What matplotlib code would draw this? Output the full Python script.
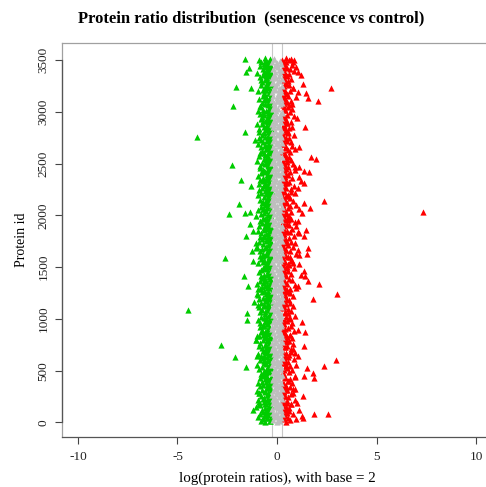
import numpy as np
import matplotlib
matplotlib.use('Agg')
import matplotlib.pyplot as plt

# log2 ratios of the dense central band, sampled proteins in id order (first pass)
core_ratio = [
    -0.58, 0.43, -0.81, -0.36, 0.67, -0.72, 0.12, -0.49, 0.53, -0.95, 0.34, -0.63, -0.44, 0.78, -0.87, 0.48, -0.19, -0.68, 0.59, -0.53,
    0.38, -0.76, -0.47, 0.62, -0.60, -1.03, 0.45, -0.39, 0.05, -0.84, 0.71, -0.55, 0.33, -0.66, -0.91, 0.52, -0.42, 0.88, -0.70, -0.22,
    -0.64, 0.57, -0.37, -0.79, 0.41, -0.52, 0.16, 0.69, -0.88, -0.45, 0.36, -0.61, -0.98, 0.49, -0.73, 0.81, -0.50, -0.09, 0.63, -0.83,
    0.46, -0.41, -0.69, 0.35, -0.93, 0.74, -0.56, -0.77, 0.54, -0.38, -0.21, 0.65, -0.62, -0.86, 0.40, -0.48, 0.92, -0.71, 0.07, -0.59,
    -0.82, 0.31, -0.54, 0.60, -0.67, -0.40, 0.77, -0.90, 0.13, -0.46, 0.50, -0.74, -0.35, 0.66, -1.00, 0.44, -0.57, -0.65, 0.37, -0.16,
    0.55, -0.63, -0.87, 0.42, -0.44, 0.84, -0.70, -0.51, 0.33, -0.78, -0.04, 0.61, -0.39, -0.96, 0.47, -0.58, 0.72, -0.68, -0.48, 0.20,
    -0.45, 0.68, -0.75, -0.55, 0.39, -0.89, 0.52, -0.62, -0.37, 0.80, -0.11, -0.83, 0.45, -0.50, 0.58, -0.72, -1.05, 0.35, -0.60, 0.73,
    0.49, -0.53, -0.92, 0.64, -0.68, 0.18, -0.43, 0.37, -0.80, -0.61, 0.86, -0.47, -0.74, 0.42, -0.36, 0.56, -0.24, -0.85, 0.70, -0.65,
    -0.70, 0.36, -0.49, -0.84, 0.75, -0.58, 0.03, 0.51, -0.97, -0.41, 0.62, -0.66, -0.53, 0.44, -0.78, 0.90, -0.38, 0.14, -0.62, 0.57,
    0.40, -0.86, -0.60, 0.70, -0.46, -0.73, 0.55, -0.35, -0.23, 0.33, -0.91, -0.52, 0.79, -0.67, 0.47, -0.44, -0.80, 0.63, 0.09, -0.57,
    -0.62, 0.59, -0.39, -0.88, 0.46, -0.71, -0.50, 0.82, -0.17, -0.94, 0.38, -0.56, 0.67, -0.45, -0.76, 0.52, -0.64, 0.11, 0.43, -0.83,
    0.66, -0.48, -0.77, 0.34, -0.59, 0.91, -0.42, -1.01, 0.50, -0.68, -0.06, 0.41, -0.54, -0.85, 0.73, -0.37, 0.58, -0.74, -0.63, 0.21,
    -0.79, 0.45, -0.66, -0.51, 0.72, -0.36, 0.19, -0.90, 0.56, -0.47, -0.82, 0.36, -0.61, 0.85, -0.72, 0.48, -0.43, -0.14, 0.62, -0.55,
    0.53, -0.57, -0.94, 0.39, -0.70, 0.76, -0.45, -0.64, 0.31, -0.80, 0.02, 0.67, -0.39, -0.87, 0.44, -0.52, 0.95, -0.69, -0.24, -0.48,
    -0.52, 0.64, -0.83, -0.41, 0.47, -0.73, 0.35, -0.60, -0.99, 0.78, -0.10, -0.46, 0.55, -0.68, -0.37, 0.41, -0.89, 0.69, -0.57, 0.16,
    0.43, -0.74, -0.49, 0.58, -0.86, -0.38, 0.83, -0.63, 0.22, -0.55, 0.37, -0.79, -0.44, 0.64, -0.93, 0.50, -0.66, -0.07, 0.74, -0.42,
    -0.67, 0.32, -0.58, -0.92, 0.61, -0.45, 0.48, -0.76, -0.18, 0.88, -0.53, -0.84, 0.40, -0.39, 0.69, -0.62, -0.71, 0.13, 0.54, -1.04,
    0.60, -0.44, -0.81, 0.45, -0.65, 0.72, -0.36, -0.57, 0.05, -0.95, 0.36, -0.70, 0.53, -0.48, -0.78, 0.66, -0.40, 0.93, -0.61, -0.25,
    -0.74, 0.51, -0.40, -0.68, 0.79, -0.87, 0.38, -0.52, -0.20, 0.63, -0.63, -0.43, 0.46, -0.97, 0.57, -0.56, 0.08, -0.82, 0.71, -0.47,
    0.35, -0.61, -0.89, 0.68, -0.50, 0.44, -0.77, -0.38, 0.85, -0.66, 0.15, -0.45, -0.92, 0.52, -0.58, 0.60, -0.72, -0.13, 0.39, -0.84,
    -0.56, 0.74, -0.71, -0.46, 0.42, -0.94, 0.56, -0.37, -0.03, 0.33, -0.80, -0.60, 0.65, -0.49, 0.89, -0.69, -0.41, 0.47, -0.86, 0.18,
    0.57, -0.83, -0.43, 0.37, -0.62, 0.81, -0.54, -0.75, 0.49, -1.02, -0.22, 0.70, -0.39, -0.67, 0.43, -0.50, 0.61, -0.90, 0.10, -0.59,
    -0.48, 0.39, -0.65, -0.85, 0.67, -0.42, -0.73, 0.53, -0.11, -0.57, 0.90, -0.36, 0.45, -0.81, -0.61, 0.76, -0.47, 0.34, -0.95, 0.04,
    0.71, -0.69, -0.52, 0.48, -0.79, 0.36, -0.40, -0.91, 0.62, -0.58, 0.19, -0.46, 0.83, -0.74, -0.35, 0.54, -0.64, -0.88, 0.41, -0.08,
    -0.60, 0.47, -0.88, -0.44, 0.58, -0.66, 0.77, -0.51, -0.15, 0.35, -0.76, -0.98, 0.50, -0.39, 0.68, -0.70, -0.55, 0.44, 0.06, -0.82,
    0.42, -0.50, -0.73, 0.87, -0.37, -0.63, 0.52, -0.84, 0.23, -0.45, 0.64, -0.57, -0.93, 0.38, -0.68, 0.75, -0.42, -0.19, 0.56, -0.78,
    -0.85, 0.62, -0.47, -0.59, 0.34, -0.77, 0.46, -0.40, -0.02, 0.71, -0.65, -0.89, 0.40, -0.53, 0.94, -0.36, -0.72, 0.57, -0.61, 0.12,
    0.50, -0.38, -0.66, 0.41, -0.96, 0.66, -0.55, -0.71, 0.13, -0.48, 0.80, -0.62, -0.43, 0.36, -0.82, 0.59, -0.51, -0.26, 0.45, -0.74,
    -0.43, 0.55, -0.78, -0.62, 0.69, -0.49, 0.33, -0.87, -0.09, 0.48, -0.54, -0.70, 0.61, -0.38, -1.00, 0.42, -0.65, 0.84, -0.46, 0.21,
    0.64, -0.72, -0.45, 0.51, -0.58, 0.39, -0.83, -0.36, 0.76, -0.67, 0.02, -0.52, -0.79, 0.47, -0.41, 0.58, -0.91, -0.16, 0.68, -0.60,
]

# second pass of sampled proteins, lying between the ids of the first pass
core_ratio_b = [
    -0.02, 0.15, -0.36, 0.09, -0.21, 0.33, -0.48, 0.20, -0.12, -0.29, 0.05, 0.41, -0.17, -0.55, 0.24, -0.07, -0.40, 0.30, 0.11, -0.33,
    0.18, -0.25, -0.44, 0.06, 0.37, -0.10, -0.31, 0.22, -0.03, -0.62, 0.13, -0.19, 0.48, -0.38, 0.01, -0.15, 0.29, -0.51, 0.25, -0.08,
    -0.14, -0.34, 0.10, 0.35, -0.23, -0.46, 0.19, -0.05, 0.27, -0.58, 0.03, -0.18, -0.30, 0.44, -0.09, 0.23, -0.41, 0.14, 0.32, -0.01,
    0.08, -0.52, -0.16, 0.31, 0.21, -0.37, -0.06, 0.54, -0.27, 0.12, -0.43, -0.22, 0.02, 0.39, -0.32, -0.11, 0.17, -0.69, 0.26, -0.04,
    -0.20, 0.28, -0.39, 0.04, -0.13, -0.57, 0.36, 0.16, -0.08, -0.29, 0.22, -0.45, 0.47, -0.01, -0.24, 0.11, -0.35, 0.30, -0.17, 0.07,
    0.13, -0.47, 0.01, -0.21, 0.34, -0.32, 0.25, -0.10, -0.64, 0.42, 0.06, -0.28, -0.15, 0.19, -0.50, 0.29, -0.04, -0.37, 0.09, -0.23,
    -0.09, 0.20, -0.42, 0.38, -0.18, -0.30, 0.03, -0.55, 0.14, 0.31, -0.25, -0.38, 0.23, -0.06, 0.51, -0.46, 0.10, -0.14, 0.27, -0.33,
    0.24, -0.36, -0.12, 0.45, 0.05, -0.61, -0.20, 0.17, -0.31, 0.33, -0.02, -0.49, 0.12, -0.26, 0.28, -0.40, 0.08, -0.16, -0.72, 0.21,
    -0.05, -0.44, 0.19, 0.30, -0.22, 0.02, -0.34, -0.13, 0.36, -0.53, 0.15, -0.08, 0.58, -0.29, 0.22, -0.41, -0.19, 0.10, -0.31, 0.04,
    0.16, -0.28, 0.40, -0.11, -0.48, 0.07, -0.24, 0.27, -0.37, -0.03, 0.20, -0.66, 0.32, -0.17, 0.12, -0.43, -0.07, 0.35, -0.32, 0.23,
    -0.18, 0.11, -0.35, 0.43, -0.01, -0.56, 0.25, -0.27, 0.06, -0.39, 0.29, -0.12, 0.18, -0.30, -0.45, 0.34, -0.22, 0.03, 0.49, -0.06,
    0.21, -0.40, -0.09, 0.32, -0.33, 0.14, -0.51, -0.20, 0.01, 0.37, -0.29, 0.24, -0.14, -0.60, 0.09, 0.28, -0.36, -0.04, 0.17, -0.42,
    -0.11, 0.26, -0.30, 0.05, 0.39, -0.47, -0.19, 0.18, -0.35, 0.31, -0.02, -0.26, 0.12, -0.58, 0.44, -0.08, 0.22, -0.38, -0.15, 0.30,
    0.03, -0.33, 0.29, -0.23, -0.49, 0.16, 0.36, -0.07, -0.41, 0.21, -0.16, 0.53, -0.28, 0.10, -0.70, -0.01, 0.33, -0.34, 0.25, -0.12,
    -0.24, 0.08, -0.45, 0.41, -0.13, 0.19, -0.31, -0.04, 0.30, -0.54, 0.13, -0.21, 0.27, -0.37, 0.02, -0.10, 0.46, -0.29, 0.23, -0.43,
    0.11, -0.38, 0.35, -0.17, 0.00, -0.63, 0.22, -0.27, 0.31, -0.08, -0.46, 0.15, -0.22, 0.40, -0.33, 0.06, -0.14, 0.28, -0.52, 0.19,
    -0.07, -0.30, 0.24, 0.34, -0.42, 0.12, -0.19, -0.57, 0.04, 0.29, -0.35, -0.11, 0.18, 0.55, -0.25, -0.48, 0.09, -0.02, 0.37, -0.32,
    0.20, -0.44, -0.15, 0.27, -0.36, 0.07, 0.43, -0.24, -0.29, 0.14, -0.05, -0.67, 0.32, -0.12, 0.23, -0.39, 0.01, 0.30, -0.20, -0.50,
    -0.16, 0.17, -0.31, 0.38, -0.53, 0.02, -0.23, 0.25, -0.40, 0.10, 0.29, -0.09, -0.34, 0.48, -0.18, 0.13, -0.45, -0.03, 0.33, -0.27,
    0.09, -0.35, 0.31, -0.06, -0.47, 0.22, -0.21, -0.30, 0.36, 0.05, -0.14, -0.59, 0.18, 0.42, -0.26, -0.38, 0.12, -0.10, 0.28, -0.43,
    -0.03, 0.23, -0.39, 0.30, -0.19, -0.29, 0.14, -0.50, 0.45, -0.12, 0.07, -0.33, 0.26, -0.24, -0.64, 0.35, 0.01, -0.15, 0.20, -0.41,
    0.15, -0.32, -0.08, 0.39, -0.44, 0.19, -0.25, 0.04, -0.37, 0.29, -0.17, -0.55, 0.11, 0.51, -0.02, -0.30, 0.24, -0.46, -0.11, 0.33,
    -0.22, 0.06, 0.34, -0.41, -0.13, 0.27, -0.31, 0.16, -0.04, -0.48, 0.21, 0.40, -0.28, -0.18, 0.10, -0.36, -0.61, 0.31, -0.07, 0.25,
    0.02, -0.37, 0.28, -0.20, -0.52, 0.13, -0.09, 0.44, -0.30, 0.20, -0.43, -0.14, 0.32, -0.01, -0.34, 0.08, -0.23, 0.57, -0.45, 0.17,
    -0.12, 0.22, -0.29, -0.40, 0.35, 0.04, -0.18, -0.56, 0.30, 0.12, -0.25, -0.35, 0.47, -0.06, 0.19, -0.42, 0.27, -0.15, -0.31, 0.09,
    0.19, -0.46, 0.01, 0.37, -0.22, -0.33, 0.14, -0.10, 0.29, -0.68, -0.27, 0.24, -0.05, 0.41, -0.39, 0.07, -0.19, -0.30, 0.33, -0.13,
    -0.08, -0.28, 0.31, 0.16, -0.43, -0.16, 0.26, 0.50, -0.34, 0.03, -0.23, -0.51, 0.21, -0.02, 0.36, -0.37, 0.11, -0.20, -0.31, 0.28,
    0.05, -0.39, 0.42, -0.24, 0.18, -0.30, -0.11, -0.62, 0.33, 0.10, -0.17, -0.44, 0.29, -0.07, 0.23, -0.35, -0.27, 0.38, 0.00, -0.48,
    -0.19, 0.12, -0.33, 0.35, -0.50, 0.25, -0.04, -0.26, 0.30, -0.41, 0.08, -0.14, 0.46, -0.29, 0.17, -0.55, -0.09, 0.32, -0.36, 0.21,
    0.10, -0.42, -0.21, 0.29, -0.31, 0.06, 0.39, -0.12, -0.47, 0.22, -0.03, -0.38, 0.34, -0.25, 0.15, -0.58, 0.27, -0.16, -0.33, 0.44,
]
n_proteins = 3520

# proteins that stand out from the band
outlier_id = [
    3507, 3420, 3388, 3243, 3225, 3057, 2809, 2761, 2730, 2488, 2343, 2288, 2109, 2015, 2022, 2028,
    1916, 1845, 1796, 1733, 1685, 1588, 1652, 1555, 1411, 1321, 1289, 1241, 1160, 1138, 1090, 1058,
    986, 832, 800, 752, 646, 633, 533, 289, 222, 174, 125,
    3227, 3108, 3130, 3179, 3266, 3195, 3230, 3355, 3388, 3436, 3500, 3480, 3076, 2857, 2938, 2664,
    2568, 2542, 2471, 2466, 2433, 2423, 2375, 2327, 2317, 2263, 2215, 2134, 2118, 2070, 2022, 2064,
    1941, 1893, 1861, 1829, 2028, 1835, 1803, 1733, 1685, 1630, 1662, 1620, 1572, 1540, 1530, 1459,
    1411, 1362, 1427, 1337, 1299, 1314, 1241, 1193, 1010, 967, 897, 871, 849, 736, 711, 640, 672,
    630, 608, 550, 527, 559, 479, 431, 446, 440, 325, 286, 254, 190, 174, 84, 84, 45, 29, 125, 61,
]
outlier_ratio = [
    -1.63, -1.42, -1.55, -2.05, -1.30, -2.19, -1.60, -4.03, -1.13, -2.27, -1.83, -1.30, -1.93, -2.39, -1.60, -1.35,
    -1.35, -1.22, -1.55, -1.08, -1.08, -2.59, -1.25, -1.22, -1.67, -1.47, -0.96, -1.01, -1.18, -0.96, -4.48, -1.50,
    -1.50, -1.01, -1.08, -2.80, -1.00, -2.10, -1.58, -0.92, -0.95, -0.90, -1.22,
    2.72, 2.05, 1.55, 1.47, 1.30, 1.05, 0.80, 1.22, 1.05, 0.97, 0.87, 0.80, 0.76, 1.43, 1.00, 1.13,
    1.72, 1.97, 0.88, 1.13, 1.38, 1.63, 1.08, 1.22, 1.38, 1.05, 0.88, 2.34, 1.35, 1.68, 1.25, 1.08,
    1.05, 0.97, 1.47, 1.13, 7.33, 1.05, 1.38, 0.88, 1.55, 1.52, 1.05, 1.13, 0.71, 0.80, 1.13, 1.35,
    1.43, 1.55, 1.22, 2.10, 0.97, 1.05, 3.02, 1.83, 0.63, 1.27, 1.05, 1.43, 0.63, 1.38, 0.80, 1.05, 0.88,
    0.54, 2.97, 2.34, 1.52, 0.97, 1.80, 1.88, 1.38, 0.88, 0.88, 0.80, 1.30, 1.00, 0.71, 1.85, 2.55, 1.30, 0.97, 1.13, 1.27,
]

threshold = 0.263  # |log2 ratio| below this is "unchanged"

core_id = np.linspace(1, n_proteins, len(core_ratio))
core_id_b = np.linspace(4, n_proteins - 3, len(core_ratio_b))
ids = np.concatenate([core_id, core_id_b, outlier_id])
ratios = np.concatenate([core_ratio, core_ratio_b, outlier_ratio])

down = ratios < -threshold
up = ratios > threshold
flat = ~(down | up)

plt.rcParams['font.family'] = ['Liberation Serif', 'DejaVu Serif']
plt.rcParams['axes.unicode_minus'] = False

fig = plt.figure(figsize=(4.86, 4.87), dpi=100)
ax = fig.add_axes([62 / 486, 1 - 437 / 487, 430 / 486, 394 / 487])

ax.axvline(-threshold, color='#c8c8c8', linewidth=0.8, zorder=1)
ax.axvline(threshold, color='#c8c8c8', linewidth=0.8, zorder=1)

msize = 20
ax.scatter(ratios[down], ids[down], marker='^', s=msize, color='#00cc00', linewidths=0, zorder=2)
ax.scatter(ratios[up], ids[up], marker='^', s=msize, color='#ff0000', linewidths=0, zorder=2)
ax.scatter(ratios[flat], ids[flat], marker='^', s=msize, color='#bebebe', linewidths=0, zorder=3)

ax.set_xlim(-10.8, 10.8)
ax.set_ylim(-140, 3664)
ax.set_xticks([-10, -5, 0, 5, 10])
ax.set_yticks([0, 500, 1000, 1500, 2000, 2500, 3000, 3500])
ax.tick_params(axis='both', direction='out', length=5, width=0.8, color='#444444',
               labelsize=9.5, labelcolor='#222222')
ax.tick_params(axis='x', pad=5)
ax.tick_params(axis='y', pad=4)
for lab in ax.get_yticklabels():
    lab.set_rotation(90)
    lab.set_va('center')

for side in ['top', 'right', 'left']:
    ax.spines[side].set_color('#a0a0a0')
ax.spines['bottom'].set_color('#555555')
for sp in ax.spines.values():
    sp.set_linewidth(0.9)
# darker axis line across the tick range, like R's axis()
ax.plot([0, 0], [0, 3500], color='#555555', linewidth=0.9,
        transform=ax.get_yaxis_transform(), clip_on=False, zorder=4)

ax.set_xlabel('log(protein ratios), with base = 2', fontsize=10.8, labelpad=6)
ax.set_ylabel('Protein id', fontsize=10, labelpad=7)

fig.text(251 / 486, 1 - 18 / 487, 'Protein ratio distribution  (senescence vs control)',
         ha='center', va='center', fontsize=12, fontweight='bold')

fig.savefig('out.png', dpi=100)
